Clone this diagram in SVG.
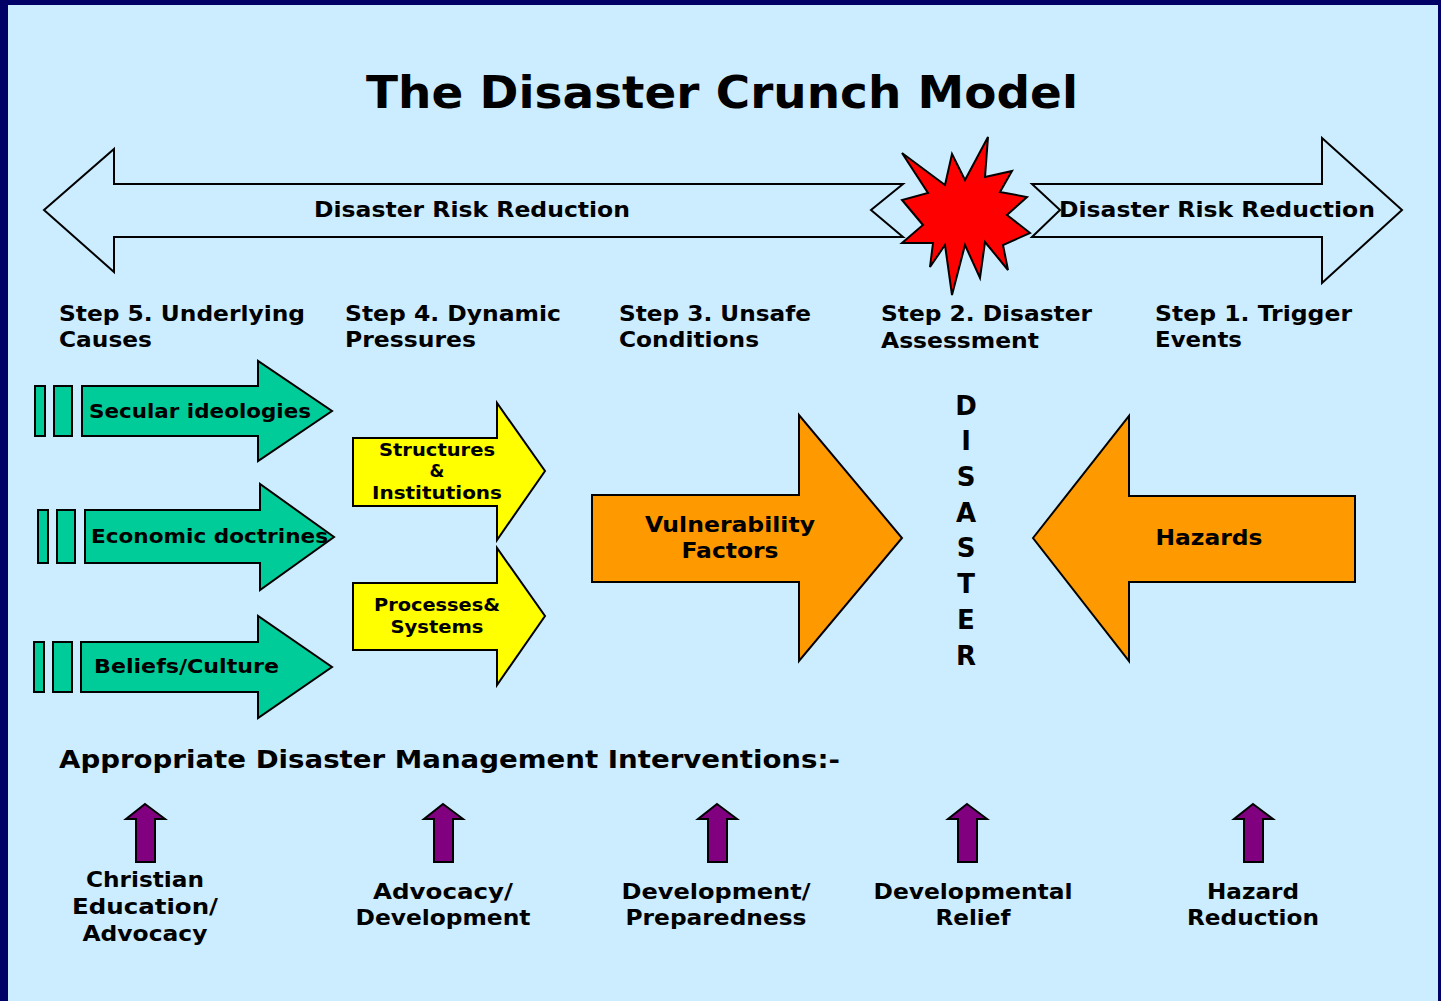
<svg xmlns="http://www.w3.org/2000/svg" width="1441" height="1001" viewBox="0 0 1441 1001">
  <style>
    text { font-family: "DejaVu Sans", Verdana, "Liberation Sans", sans-serif; font-weight: bold; fill: #000; }
    .outline { fill: none; stroke: #000; stroke-width: 2; stroke-linejoin: miter; }
    .green { fill: #00CC99; stroke: #000; stroke-width: 2; }
    .yellow { fill: #FFFF00; stroke: #000; stroke-width: 2; }
    .orange { fill: #FF9900; stroke: #000; stroke-width: 2; }
    .purple { fill: #800080; stroke: #000; stroke-width: 2; }
    .burst { fill: #FF0000; stroke: #000; stroke-width: 2; }
    .step { font-size: 22px; }
    .mid { text-anchor: middle; }
  </style>

  <!-- frame and background -->
  <rect x="0" y="0" width="1441" height="1001" fill="#000066"/>
  <rect x="8" y="5" width="1430" height="996" fill="#CCECFF"/>

  <text x="722" y="108" class="mid" font-size="45" textLength="712" lengthAdjust="spacingAndGlyphs">The Disaster Crunch Model</text>

  <!-- disaster risk reduction band -->
  <g id="drr-left">
    <polygon class="outline" points="44,210 114,149 114,184 903,184 871,210 903,237 114,237 114,272"/>
    <text x="472" y="217" class="mid" font-size="21" textLength="316" lengthAdjust="spacingAndGlyphs">Disaster Risk Reduction</text>
  </g>
  <g id="drr-right">
    <polygon class="outline" points="1032,184 1322,184 1322,138 1402,210 1322,283 1322,237 1032,237 1060,210"/>
  </g>
  <g id="burst">
    <polygon class="burst" points="988,137 985,177 1012,171 1000,192 1027,197 1007,215 1030,233 1003,245 1008,270 985,242 980,278 965,245 952,295 945,245 930,267 933,243 902,243 923,225 902,200 928,193 902,153 945,185 952,154 965,180"/>
  </g>
  <text x="1217" y="217" class="mid" font-size="21" textLength="316" lengthAdjust="spacingAndGlyphs">Disaster Risk Reduction</text>

  <!-- step headings -->
  <g id="steps">
    <text x="59" y="321" class="step" textLength="246" lengthAdjust="spacingAndGlyphs">Step 5. Underlying</text>
    <text x="59" y="347" class="step" textLength="93" lengthAdjust="spacingAndGlyphs">Causes</text>
    <text x="345" y="321" class="step" textLength="216" lengthAdjust="spacingAndGlyphs">Step 4. Dynamic</text>
    <text x="345" y="347" class="step" textLength="131" lengthAdjust="spacingAndGlyphs">Pressures</text>
    <text x="619" y="321" class="step" textLength="192" lengthAdjust="spacingAndGlyphs">Step 3. Unsafe</text>
    <text x="619" y="347" class="step" textLength="140" lengthAdjust="spacingAndGlyphs">Conditions</text>
    <text x="881" y="321" class="step" textLength="211" lengthAdjust="spacingAndGlyphs">Step 2. Disaster</text>
    <text x="881" y="348" class="step" textLength="158" lengthAdjust="spacingAndGlyphs">Assessment</text>
    <text x="1155" y="321" class="step" textLength="197" lengthAdjust="spacingAndGlyphs">Step 1. Trigger</text>
    <text x="1155" y="347" class="step" textLength="87" lengthAdjust="spacingAndGlyphs">Events</text>
  </g>

  <!-- underlying causes -->
  <g id="secular">
    <rect class="green" x="35" y="386" width="10" height="50"/>
    <rect class="green" x="54" y="386" width="18" height="50"/>
    <polygon class="green" points="82,386 258,386 258,361 332,411 258,461 258,436 82,436"/>
    <text x="89" y="418" font-size="20" textLength="222" lengthAdjust="spacingAndGlyphs">Secular ideologies</text>
  </g>
  <g id="economic">
    <rect class="green" x="38" y="510" width="10" height="53"/>
    <rect class="green" x="57" y="510" width="18" height="53"/>
    <polygon class="green" points="85,510 260,510 260,484 334,537 260,590 260,563 85,563"/>
    <text x="91" y="543" font-size="20" textLength="237" lengthAdjust="spacingAndGlyphs">Economic doctrines</text>
  </g>
  <g id="beliefs">
    <rect class="green" x="34" y="642" width="10" height="50"/>
    <rect class="green" x="53" y="642" width="19" height="50"/>
    <polygon class="green" points="81,642 258,642 258,616 332,667 258,718 258,692 81,692"/>
    <text x="94" y="673" font-size="20" textLength="185" lengthAdjust="spacingAndGlyphs">Beliefs/Culture</text>
  </g>

  <!-- dynamic pressures -->
  <g id="structures">
    <polygon class="yellow" points="353,438 497,438 497,403 545,471 497,540 497,506 353,506"/>
    <text x="437" y="456" class="mid" font-size="17" textLength="116" lengthAdjust="spacingAndGlyphs">Structures</text>
    <text x="437" y="477" class="mid" font-size="17">&amp;</text>
    <text x="437" y="499" class="mid" font-size="17" textLength="130" lengthAdjust="spacingAndGlyphs">Institutions</text>
  </g>
  <g id="processes">
    <polygon class="yellow" points="353,583 497,583 497,548 545,616 497,685 497,650 353,650"/>
    <text x="437" y="611" class="mid" font-size="17" textLength="126" lengthAdjust="spacingAndGlyphs">Processes&amp;</text>
    <text x="437" y="633" class="mid" font-size="17" textLength="93" lengthAdjust="spacingAndGlyphs">Systems</text>
  </g>

  <!-- unsafe conditions and triggers -->
  <g id="vulnerability">
    <polygon class="orange" points="592,495 799,495 799,415 902,538 799,661 799,582 592,582"/>
    <text x="730" y="532" class="mid" font-size="21" textLength="170" lengthAdjust="spacingAndGlyphs">Vulnerability</text>
    <text x="730" y="558" class="mid" font-size="21" textLength="97" lengthAdjust="spacingAndGlyphs">Factors</text>
  </g>
  <g id="hazards">
    <polygon class="orange" points="1033,538 1129,416 1129,496 1355,496 1355,582 1129,582 1129,661"/>
    <text x="1209" y="545" class="mid" font-size="21" textLength="107" lengthAdjust="spacingAndGlyphs">Hazards</text>
  </g>

  <g id="disaster" font-size="26">
    <text x="966" y="415" class="mid" font-size="26">D</text>
    <text x="966" y="450" class="mid" font-size="26">I</text>
    <text x="966" y="486" class="mid" font-size="26">S</text>
    <text x="966" y="522" class="mid" font-size="26">A</text>
    <text x="966" y="557" class="mid" font-size="26">S</text>
    <text x="966" y="593" class="mid" font-size="26">T</text>
    <text x="966" y="629" class="mid" font-size="26">E</text>
    <text x="966" y="665" class="mid" font-size="26">R</text>
  </g>

  <text x="59" y="768" font-size="24" textLength="781" lengthAdjust="spacingAndGlyphs">Appropriate Disaster Management Interventions:-</text>

  <!-- interventions -->
  <defs>
    <polygon id="up" class="purple" points="0,0 20,15 10,15 10,58 -9,58 -9,15 -19,15"/>
  </defs>
  <g id="int-christian">
    <use href="#up" x="145" y="804"/>
    <text x="145" y="887" class="mid" font-size="21" textLength="118" lengthAdjust="spacingAndGlyphs">Christian</text>
    <text x="145" y="914" class="mid" font-size="21" textLength="146" lengthAdjust="spacingAndGlyphs">Education/</text>
    <text x="145" y="941" class="mid" font-size="21" textLength="125" lengthAdjust="spacingAndGlyphs">Advocacy</text>
  </g>
  <g id="int-advocacy">
    <use href="#up" x="443" y="804"/>
    <text x="443" y="899" class="mid" font-size="21" textLength="140" lengthAdjust="spacingAndGlyphs">Advocacy/</text>
    <text x="443" y="925" class="mid" font-size="21" textLength="175" lengthAdjust="spacingAndGlyphs">Development</text>
  </g>
  <g id="int-preparedness">
    <use href="#up" x="717" y="804"/>
    <text x="716" y="899" class="mid" font-size="21" textLength="189" lengthAdjust="spacingAndGlyphs">Development/</text>
    <text x="716" y="925" class="mid" font-size="21" textLength="181" lengthAdjust="spacingAndGlyphs">Preparedness</text>
  </g>
  <g id="int-relief">
    <use href="#up" x="967" y="804"/>
    <text x="973" y="899" class="mid" font-size="21" textLength="199" lengthAdjust="spacingAndGlyphs">Developmental</text>
    <text x="973" y="925" class="mid" font-size="21" textLength="75" lengthAdjust="spacingAndGlyphs">Relief</text>
  </g>
  <g id="int-hazard">
    <use href="#up" x="1253" y="804"/>
    <text x="1253" y="899" class="mid" font-size="21" textLength="92" lengthAdjust="spacingAndGlyphs">Hazard</text>
    <text x="1253" y="925" class="mid" font-size="21" textLength="132" lengthAdjust="spacingAndGlyphs">Reduction</text>
  </g>
</svg>
